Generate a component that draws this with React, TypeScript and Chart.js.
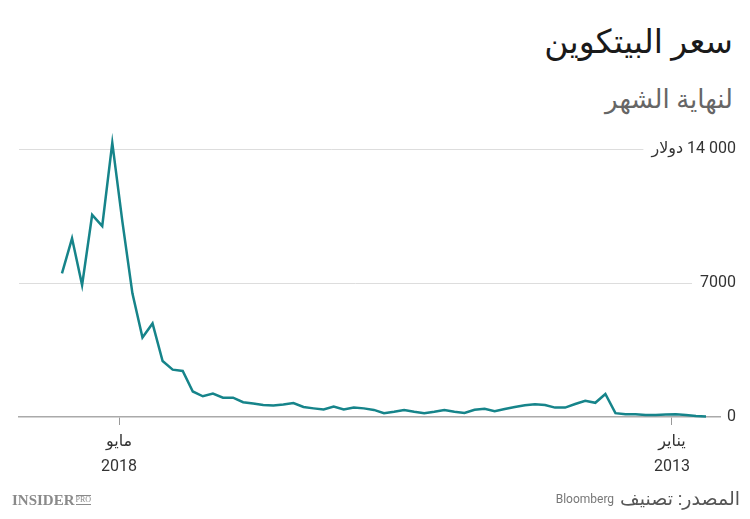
import React, { useEffect, useRef } from "react";
import { Chart, registerables } from "chart.js";

Chart.register(...registerables);

// Monthly month-end price, Jan 2013 -> May 2018 (USD)
const months: string[] = [
  "2013-01","2013-02","2013-03","2013-04","2013-05","2013-06","2013-07","2013-08","2013-09","2013-10","2013-11","2013-12",
  "2014-01","2014-02","2014-03","2014-04","2014-05","2014-06","2014-07","2014-08","2014-09","2014-10","2014-11","2014-12",
  "2015-01","2015-02","2015-03","2015-04","2015-05","2015-06","2015-07","2015-08","2015-09","2015-10","2015-11","2015-12",
  "2016-01","2016-02","2016-03","2016-04","2016-05","2016-06","2016-07","2016-08","2016-09","2016-10","2016-11","2016-12",
  "2017-01","2017-02","2017-03","2017-04","2017-05","2017-06","2017-07","2017-08","2017-09","2017-10","2017-11","2017-12",
  "2018-01","2018-02","2018-03","2018-04","2018-05",
];

const prices: number[] = [
  30, 50, 100, 140, 130, 110, 110, 140, 140, 200, 1200, 740,
  850, 680, 490, 490, 630, 660, 610, 520, 420, 300, 430, 380,
  210, 270, 360, 270, 200, 270, 360, 270, 200, 370, 450, 490,
  390, 540, 390, 450, 520, 730, 650, 595, 630, 700, 770, 1010,
  1010, 1220, 1080, 1330, 2400, 2470, 2920, 4880, 4150, 6450, 10200, 14300,
  9960, 10540, 6880, 9320, 7490,
];

// x-axis ticks (positions in month-index units) and their labels
const xTickPositions: number[] = [58.33, 3.38];
const xTickLabels: string[][] = [["مايو", "2018"], ["يناير", "2013"]];

// y-axis ticks; the unit word is written to the left of the top tick's number
const yTickValues: number[] = [0, 7000, 14000];
const yTickLabels: string[] = ["0", "7000", "14 000"];
const yTopUnit = "دولار";

const FONT = 'Roboto, "DejaVu Sans", sans-serif';

const rtlGridPlugin = {
  id: "rtlGrid",
  beforeDatasetsDraw(chart: any) {
    const { ctx, chartArea, scales } = chart;
    const y = scales.y;
    const textRight = chart.width - 14;
    ctx.save();
    ctx.font = `16px ${FONT}`;
    ctx.textBaseline = "middle";
    ctx.textAlign = "right";
    ctx.direction = "ltr";
    const last = yTickValues.length - 1;
    yTickValues.forEach((v, i) => {
      const py = y.getPixelForValue(v);
      const label = yTickLabels[i];
      const w = ctx.measureText(label).width;
      let textLeft = textRight - w;
      ctx.fillStyle = "#333333";
      ctx.fillText(label, textRight, py);
      if (i === last) {
        const gap = ctx.measureText(" ").width;
        const uw = ctx.measureText(yTopUnit).width;
        ctx.fillText(yTopUnit, textLeft - gap, py);
        textLeft = textLeft - gap - uw;
      }
      if (v !== 0) {
        ctx.beginPath();
        ctx.strokeStyle = "#dddddd";
        ctx.lineWidth = 1;
        ctx.moveTo(chartArea.left, Math.round(py) + 0.5);
        ctx.lineTo(textLeft - 8, Math.round(py) + 0.5);
        ctx.stroke();
      }
    });
    ctx.restore();
  },
};

function PriceChart() {
  const ref = useRef<HTMLCanvasElement | null>(null);
  useEffect(() => {
    if (!ref.current) return;
    const chart = new Chart(ref.current, {
      type: "line",
      data: {
        labels: months,
        datasets: [
          {
            data: prices.map((v, i) => ({ x: i, y: v })),
            borderColor: "#16848a",
            borderWidth: 2.5,
            pointRadius: 0,
            tension: 0,
            fill: false,
            clip: false as any,
          },
        ],
      },
      options: {
        responsive: false,
        animation: false,
        layout: { padding: { left: 19, right: 30, top: 139, bottom: 42 } },
        plugins: { legend: { display: false }, tooltip: { enabled: false } },
        scales: {
          x: {
            type: "linear",
            reverse: true,
            min: -1.39,
            max: 68.27,
            afterBuildTicks: (scale: any) => {
              scale.ticks = xTickPositions.map((v) => ({ value: v }));
            },
            afterFit: (scale: any) => {
              scale.height = 60;
            },
            grid: {
              display: true,
              drawOnChartArea: false,
              drawTicks: true,
              tickLength: 8,
              color: "#999999",
              lineWidth: 1,
            },
            border: { display: true, color: "#aaaaaa", width: 1.5 },
            ticks: {
              autoSkip: false,
              maxRotation: 0,
              padding: 4,
              color: "#333333",
              font: { family: FONT, size: 16, lineHeight: 1.6 },
              callback: (_v: any, index: number) => xTickLabels[index],
            },
          },
          y: {
            display: false,
            min: 0,
            max: 14500,
          },
        },
      },
      plugins: [rtlGridPlugin],
    });
    return () => chart.destroy();
  }, []);
  return <canvas ref={ref} width={750} height={519} style={{ position: "absolute", left: 0, top: 0 }} />;
}

export default function App() {
  return (
    <div
      style={{
        position: "absolute",
        left: 0,
        top: 0,
        width: 750,
        height: 519,
        background: "#ffffff",
        overflow: "hidden",
        fontFamily: FONT,
      }}
    >
      <div
        dir="rtl"
        style={{ position: "absolute", right: 17, top: 22, fontSize: 33, lineHeight: "40px", color: "#1a1a1a" }}
      >
        سعر البيتكوين
      </div>
      <div
        dir="rtl"
        style={{ position: "absolute", right: 17, top: 82, fontSize: 26, lineHeight: "34px", color: "#666666" }}
      >
        لنهاية الشهر
      </div>
      <PriceChart />
      <div
        style={{
          position: "absolute",
          left: 12,
          top: 491,
          display: "flex",
          alignItems: "center",
          color: "#8a8a8a",
          fontFamily: '"Liberation Serif", "Times New Roman", serif',
        }}
      >
        <span style={{ fontSize: 15, fontWeight: 700, lineHeight: "18px" }}>INSIDER</span>
        <span
          style={{
            fontSize: 8,
            lineHeight: "8px",
            marginLeft: 1,
            borderTop: "1px solid #8a8a8a",
            borderBottom: "1px solid #8a8a8a",
            alignSelf: "center",
          }}
        >
          PRO
        </span>
      </div>
      <div
        dir="rtl"
        style={{
          position: "absolute",
          right: 10,
          top: 486,
          whiteSpace: "nowrap",
          color: "#555555",
          display: "flex",
          alignItems: "center",
        }}
      >
        <span style={{ fontSize: 19, lineHeight: "26px" }}>المصدر: تصنيف</span>
        <span style={{ fontSize: 12, lineHeight: "26px", color: "#777777", marginRight: 6 }}>Bloomberg</span>
      </div>
    </div>
  );
}
